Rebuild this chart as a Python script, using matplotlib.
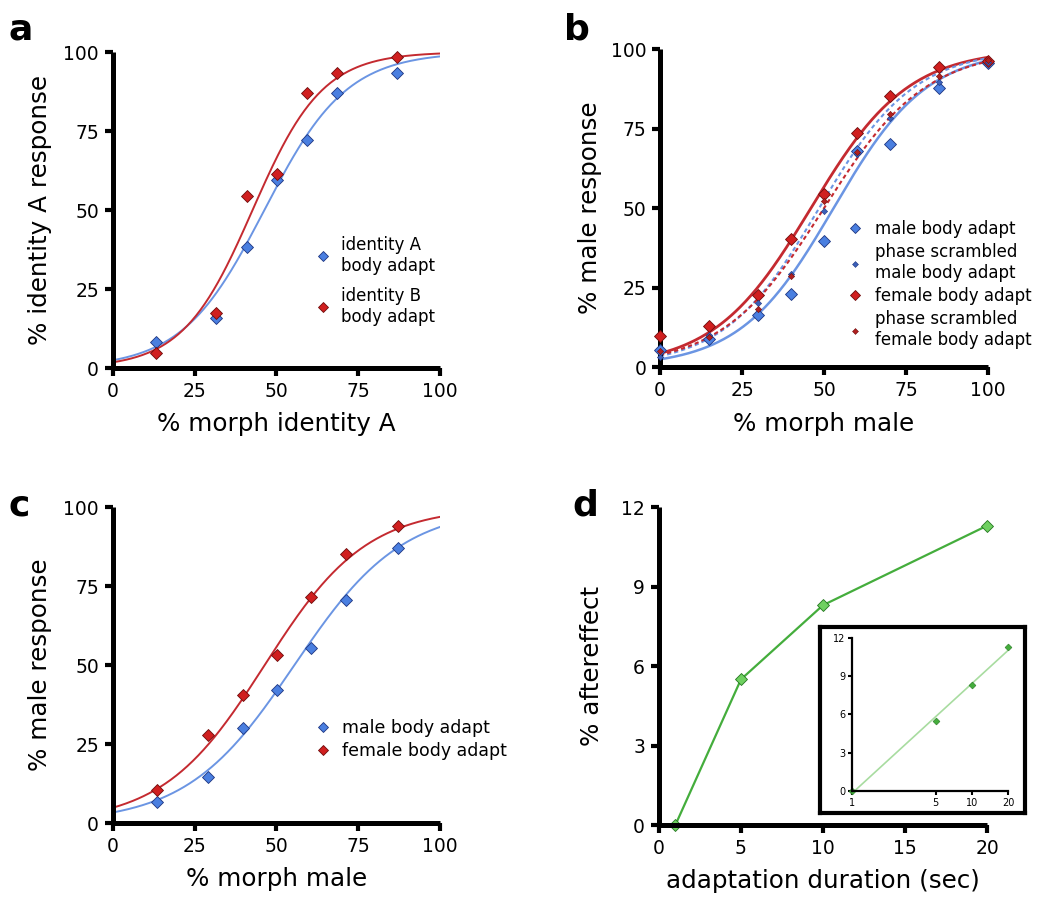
import numpy as np
import matplotlib
matplotlib.use('Agg')
import matplotlib.pyplot as plt
from matplotlib.lines import Line2D

plt.rcParams['font.family'] = ['DejaVu Sans']

# colours
BLUE = '#4a7fe0'
BLUE_EDGE = '#1d3580'
BLUE_LINE = '#6b95e3'
RED = '#d01f1f'
RED_EDGE = '#6e0b0b'
RED_LINE = '#c42a30'
GREEN = '#44ad3c'
GREEN_FILL = '#6fd060'
GREEN_EDGE = '#23761f'
GREEN_LIGHT = '#a8dca0'

# panel a: identity adaptation
a_morph = [13.3, 31.6, 40.9, 50.1, 59.4, 68.6, 87.0]
a_idA = [8.3, 15.8, 38.4, 59.5, 72.1, 86.9, 93.5]
a_idB = [4.6, 17.5, 54.5, 61.3, 86.9, 93.5, 98.4]
a_fitA = (46.3, 12.6)   # (PSE, slope) of fitted logistic
a_fitB = (42.7, 10.7)

# panel b: gender adaptation with phase scrambled controls
b_morph = [0, 15, 30, 40, 50, 60, 70, 85, 100]
b_male = [5.3, 8.9, 16.3, 22.9, 39.6, 68.1, 70.3, 87.8, 95.6]
b_female = [9.7, 13.0, 22.7, 40.3, 54.3, 73.6, 85.4, 94.5, 96.4]
b_ps_male = [3.0, 10.0, 20.3, 29.2, 49.2, 67.0, 78.3, 89.8, 96.0]
b_ps_female = [5.0, 9.4, 18.2, 28.5, 52.2, 67.6, 79.6, 91.6, 96.5]
b_fit_male = (52.9, 14.3)
b_fit_female = (46.0, 14.8)
b_fit_ps_male = (48.5, 14.5)
b_fit_ps_female = (50.0, 15.5)

# panel c: gender adaptation
c_morph = [13.5, 29.1, 39.8, 50.3, 60.7, 71.4, 87.2]
c_male = [6.5, 14.7, 30.2, 42.0, 55.3, 70.6, 87.1]
c_female = [10.5, 27.9, 40.5, 53.2, 71.6, 85.1, 94.0]
c_fit_male = (55.5, 16.5)
c_fit_female = (46.4, 15.6)

# panel d: aftereffect vs adaptation duration
d_dur = [1, 5, 10, 20]
d_after = [0.0, 5.5, 8.3, 11.3]

pct_ticks = [0, 25, 50, 75, 100]


def logistic(x, fit):
    pse, slope = fit
    return 100.0 / (1.0 + np.exp(-(x - pse) / slope))


def style_axis(ax, lw=3.6):
    for side in ['top', 'right']:
        ax.spines[side].set_visible(False)
    for side in ['left', 'bottom']:
        ax.spines[side].set_linewidth(lw)
        ax.spines[side].set_capstyle('butt')
    ax.tick_params(direction='out', length=6, width=3, labelsize=13.5, pad=4)


fig = plt.figure(figsize=(10.5, 9.08), dpi=100)

xs = np.linspace(0, 100, 300)

# ---- a ----
ax = fig.add_axes([0.1076, 0.5947, 0.3114, 0.348])
ax.plot(xs, logistic(xs, a_fitA), color=BLUE_LINE, lw=1.4)
ax.plot(xs, logistic(xs, a_fitB), color=RED_LINE, lw=1.4)
ax.plot(a_morph, a_idA, 'D', ms=6.5, mfc=BLUE, mec=BLUE_EDGE, mew=0.6, clip_on=False)
ax.plot(a_morph, a_idB, 'D', ms=6.5, mfc=RED, mec=RED_EDGE, mew=0.6, clip_on=False)
ax.set_xlim(0, 100)
ax.set_ylim(0, 100)
ax.set_xticks(pct_ticks)
ax.set_yticks(pct_ticks)
style_axis(ax)
ax.text(0.5, -0.178, '% morph identity A', transform=ax.transAxes, ha='center', va='center', fontsize=17.7)
ax.text(-0.223, 0.5, '% identity A response', transform=ax.transAxes, ha='center', va='center',
        rotation=90, fontsize=17.7)
handles = [Line2D([], [], ls='', marker='D', ms=5.5, mfc=BLUE, mec=BLUE_EDGE, mew=0.6),
           Line2D([], [], ls='', marker='D', ms=5.5, mfc=RED, mec=RED_EDGE, mew=0.6)]
ax.legend(handles, ['identity A\nbody adapt', 'identity B\nbody adapt'], loc='upper left',
          bbox_to_anchor=(0.621, 0.418), frameon=False, fontsize=12, handlelength=0.8,
          handletextpad=0.72, labelspacing=0.72, borderpad=0, borderaxespad=0)

# ---- b ----
ax = fig.add_axes([0.6286, 0.5958, 0.3124, 0.350])
ax.plot(xs, logistic(xs, b_fit_male), color=BLUE_LINE, lw=1.8)
ax.plot(xs, logistic(xs, b_fit_female), color=RED_LINE, lw=2.0)
ax.plot(xs, logistic(xs, b_fit_ps_male), color=BLUE_LINE, lw=1.5, ls=(0, (2, 1.5)))
ax.plot(xs, logistic(xs, b_fit_ps_female), color=RED_LINE, lw=1.5, ls=(0, (2, 1.5)))
ax.plot(b_morph, b_male, 'D', ms=6.5, mfc=BLUE, mec=BLUE_EDGE, mew=0.6, clip_on=False, zorder=3)
ax.plot(b_morph, b_female, 'D', ms=6.5, mfc=RED, mec=RED_EDGE, mew=0.6, clip_on=False, zorder=3)
ax.plot(b_morph, b_ps_male, 'D', ms=3.2, mfc='#3a5fb8', mec='#1d3580', mew=0.4, clip_on=False, zorder=4)
ax.plot(b_morph, b_ps_female, 'D', ms=3.2, mfc='#b02020', mec='#6e0b0b', mew=0.4, clip_on=False, zorder=4)
ax.set_xlim(0, 100)
ax.set_ylim(0, 100)
ax.set_xticks(pct_ticks)
ax.set_yticks(pct_ticks)
style_axis(ax)
ax.text(0.5, -0.18, '% morph male', transform=ax.transAxes, ha='center', va='center', fontsize=17.7)
ax.text(-0.213, 0.5, '% male response', transform=ax.transAxes, ha='center', va='center',
        rotation=90, fontsize=17.7)
handles = [Line2D([], [], ls='', marker='D', ms=5.5, mfc=BLUE, mec=BLUE_EDGE, mew=0.6),
           Line2D([], [], ls='', marker='D', ms=3, mfc='#3a5fb8', mec='#1d3580', mew=0.4),
           Line2D([], [], ls='', marker='D', ms=5.5, mfc=RED, mec=RED_EDGE, mew=0.6),
           Line2D([], [], ls='', marker='D', ms=3, mfc='#b02020', mec='#6e0b0b', mew=0.4)]
ax.legend(handles, ['male body adapt', 'phase scrambled\nmale body adapt', 'female body adapt',
                    'phase scrambled\nfemale body adapt'], loc='upper left',
          bbox_to_anchor=(0.575, 0.462), frameon=False, fontsize=12, handlelength=0.8,
          handletextpad=0.8, labelspacing=0.3, borderpad=0, borderaxespad=0)

# ---- c ----
ax = fig.add_axes([0.1076, 0.0936, 0.3114, 0.348])
ax.plot(xs, logistic(xs, c_fit_male), color=BLUE_LINE, lw=1.4)
ax.plot(xs, logistic(xs, c_fit_female), color=RED_LINE, lw=1.4)
ax.plot(c_morph, c_male, 'D', ms=6.5, mfc=BLUE, mec=BLUE_EDGE, mew=0.6, clip_on=False)
ax.plot(c_morph, c_female, 'D', ms=6.5, mfc=RED, mec=RED_EDGE, mew=0.6, clip_on=False)
ax.set_xlim(0, 100)
ax.set_ylim(0, 100)
ax.set_xticks(pct_ticks)
ax.set_yticks(pct_ticks)
style_axis(ax)
ax.text(0.5, -0.178, '% morph male', transform=ax.transAxes, ha='center', va='center', fontsize=17.7)
ax.text(-0.223, 0.5, '% male response', transform=ax.transAxes, ha='center', va='center',
        rotation=90, fontsize=17.7)
handles = [Line2D([], [], ls='', marker='D', ms=5.5, mfc=BLUE, mec=BLUE_EDGE, mew=0.6),
           Line2D([], [], ls='', marker='D', ms=5.5, mfc=RED, mec=RED_EDGE, mew=0.6)]
ax.legend(handles, ['male body adapt', 'female body adapt'], loc='upper left',
          bbox_to_anchor=(0.621, 0.329), frameon=False, fontsize=12.5, handlelength=0.8,
          handletextpad=0.72, labelspacing=0.3, borderpad=0, borderaxespad=0)

# ---- d ----
ax = fig.add_axes([0.6276, 0.0914, 0.3124, 0.350])
ax.plot(d_dur, d_after, '-D', color=GREEN, lw=1.6, ms=6.5, mfc=GREEN_FILL, mec=GREEN_EDGE, mew=0.6,
        clip_on=False)
ax.set_xlim(0, 20)
ax.set_ylim(0, 12)
ax.set_xticks([0, 5, 10, 15, 20])
ax.set_yticks([0, 3, 6, 9, 12])
style_axis(ax)
ax.text(0.5, -0.175, 'adaptation duration (sec)', transform=ax.transAxes, ha='center', va='center',
        fontsize=17.7)
ax.text(-0.205, 0.5, '% aftereffect', transform=ax.transAxes, ha='center', va='center',
        rotation=90, fontsize=17.7)

# inset frame
frame = fig.add_axes([0.781, 0.1046, 0.1952, 0.2048])
frame.set_xticks([])
frame.set_yticks([])
frame.patch.set_facecolor('white')
for side in frame.spines.values():
    side.set_linewidth(3)

# inset: log duration
ins = fig.add_axes([0.8114, 0.1289, 0.1486, 0.1685])
coef = np.polyfit(np.log10(d_dur), d_after, 1)
xl = np.array([1, 20])
ins.plot(xl, np.polyval(coef, np.log10(xl)), color=GREEN_LIGHT, lw=1.2)
ins.plot(d_dur, d_after, 'D', ms=3.5, mfc=GREEN, mec=GREEN_EDGE, mew=0.4, clip_on=False)
ins.set_xscale('log')
ins.set_xlim(1, 20)
ins.set_ylim(0, 12)
ins.set_xticks([1, 5, 10, 20])
ins.set_xticklabels(['1', '5', '10', '20'])
ins.minorticks_off()
ins.set_yticks([0, 3, 6, 9, 12])
for side in ['top', 'right']:
    ins.spines[side].set_visible(False)
for side in ['left', 'bottom']:
    ins.spines[side].set_linewidth(1.6)
ins.tick_params(direction='out', length=3, width=1.5, labelsize=7, pad=2)

# panel letters
for letter, x, y in [('a', 0.008, 0.968), ('b', 0.537, 0.968), ('c', 0.008, 0.443), ('d', 0.545, 0.443)]:
    fig.text(x, y, letter, fontsize=26, fontweight='bold', ha='left', va='center')

fig.savefig('out.png', dpi=100)
